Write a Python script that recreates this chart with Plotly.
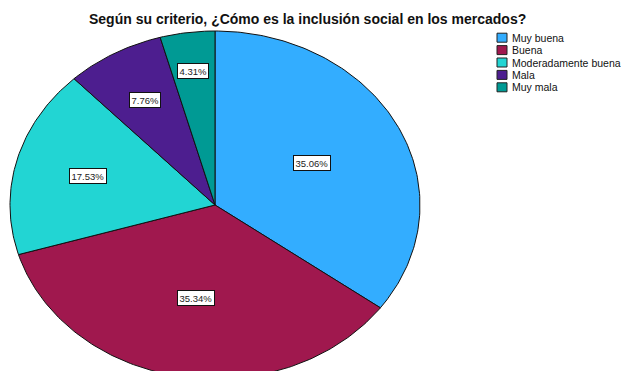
import numpy as np
import plotly.graph_objects as go

# Survey answers and their shares (%)
categories = ["Muy buena", "Buena", "Moderadamente buena", "Mala", "Muy mala"]
percentages = [35.06, 35.34, 17.53, 7.76, 4.31]

# Styling
colors = ["#33adff", "#a0184e", "#22d5d3", "#4d1e8f", "#009a94"]
label_radius = [0.53, 0.54, 0.64, 0.69, 0.78]   # fraction of radius for value boxes
W, H = 621, 371
CX, CY = 215, 205       # pie centre (axis units == pixels)
RX, RY = 205, 174       # elliptical pie radii

fig = go.Figure()

total = sum(percentages)
start = 0.0
for name, pct, col, lr in zip(categories, percentages, colors, label_radius):
    a0 = start / total * 2 * np.pi
    a1 = (start + pct) / total * 2 * np.pi
    t = np.linspace(a0, a1, max(8, int(pct * 4)))
    xs = np.concatenate([[CX], CX + RX * np.sin(t), [CX]])
    ys = np.concatenate([[CY], CY - RY * np.cos(t), [CY]])
    fig.add_trace(go.Scatter(
        x=xs, y=ys, mode="lines", fill="toself", fillcolor=col,
        line=dict(color="#111111", width=1), name=name,
        hoverinfo="skip", showlegend=False,
    ))
    mid = (a0 + a1) / 2
    fig.add_annotation(
        x=CX + RX * lr * np.sin(mid), y=CY - RY * lr * np.cos(mid),
        xref="x", yref="y", text=f"{pct:.2f}%", showarrow=False,
        font=dict(family="Liberation Sans, Arial", size=9.5, color="#222222"),
        bgcolor="white", bordercolor="#111111", borderwidth=1, borderpad=1.5,
    )
    start += pct

# Title
fig.add_annotation(
    x=307, y=19, xref="x", yref="y", showarrow=False,
    text="<b>Según su criterio, ¿Cómo es la inclusión social en los mercados?</b>",
    font=dict(family="Liberation Sans, Arial", size=14, color="#111111"),
)

# Legend drawn as swatches + labels
for i, (name, col) in enumerate(zip(categories, colors)):
    yc = 37.7 + i * 12.4
    fig.add_shape(type="rect", xref="x", yref="y",
                  x0=497, x1=507, y0=yc - 4.5, y1=yc + 4.5,
                  fillcolor=col, line=dict(color="#222222", width=1))
    fig.add_annotation(x=510, y=yc, xref="x", yref="y", text=name,
                       showarrow=False, xanchor="left",
                       font=dict(family="Liberation Sans, Arial", size=10.5, color="#111111"))

fig.update_xaxes(range=[0, W], visible=False, fixedrange=True)
fig.update_yaxes(range=[H, 0], visible=False, fixedrange=True)
fig.update_layout(
    width=W, height=H, margin=dict(l=0, r=0, t=0, b=0),
    paper_bgcolor="white", plot_bgcolor="white", showlegend=False,
)

fig.write_html("out.html")
